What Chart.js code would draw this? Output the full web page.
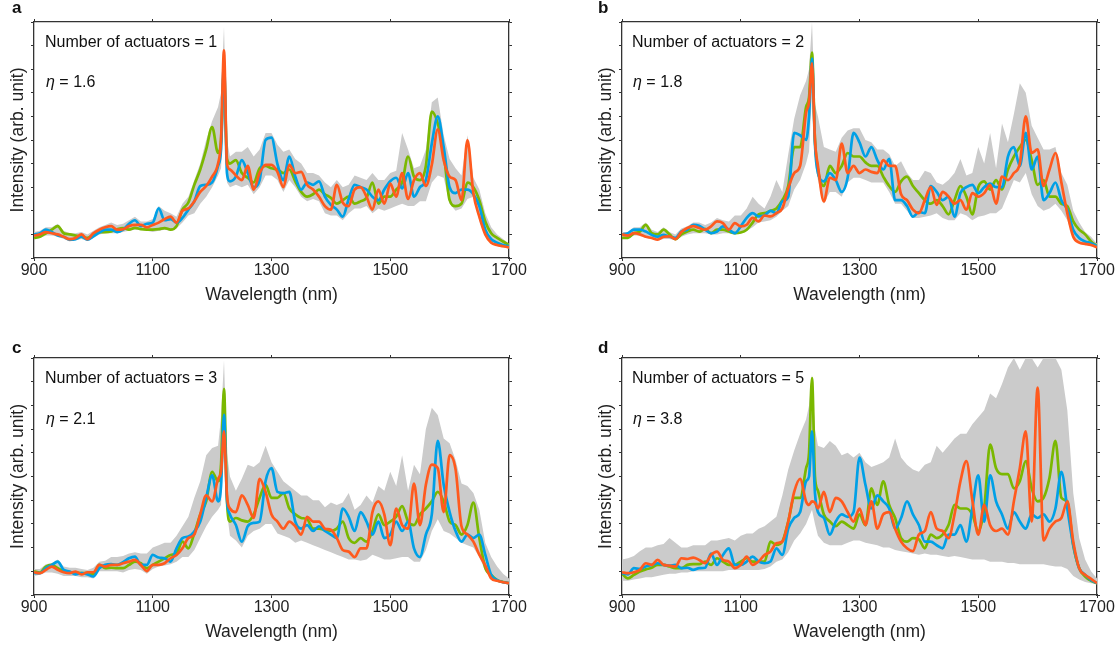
<!DOCTYPE html>
<html lang="en">
<head>
<meta charset="UTF-8">
<script src="https://cdn.jsdelivr.net/npm/chart.js@4.4.0/dist/chart.umd.min.js"></script>
<style>
    body { margin: 0; background: #fff; width: 1119px; height: 647px; position: relative; overflow: hidden; }
    canvas { position: absolute; }
    .lbl { position: absolute; font: 16px "Liberation Sans", Arial, sans-serif; line-height: 16px; color: #111; white-space: nowrap; }
    .let { position: absolute; font: bold 17px "Liberation Sans", Arial, sans-serif; line-height: 17px; color: #111; }
</style>
</head>
<body>
<canvas id="ca" width="530" height="308" style="left:0;top:0"></canvas>
<canvas id="cb" width="530" height="308" style="left:588px;top:0"></canvas>
<canvas id="cc" width="530" height="309" style="left:0;top:336px"></canvas>
<canvas id="cd" width="530" height="309" style="left:588px;top:336px"></canvas>

<div class="let" style="left:12px;top:-1px">a</div>
<div class="let" style="left:598px;top:-1px">b</div>
<div class="let" style="left:12px;top:339px">c</div>
<div class="let" style="left:598px;top:339px">d</div>

<div class="lbl" style="left:45px;top:34px">Number of actuators = 1</div>
<div class="lbl" style="left:46px;top:74px"><i>η</i> = 1.6</div>
<div class="lbl" style="left:632px;top:34px">Number of actuators = 2</div>
<div class="lbl" style="left:633px;top:74px"><i>η</i> = 1.8</div>
<div class="lbl" style="left:45px;top:370px">Number of actuators = 3</div>
<div class="lbl" style="left:46px;top:411px"><i>η</i> = 2.1</div>
<div class="lbl" style="left:632px;top:370px">Number of actuators = 5</div>
<div class="lbl" style="left:633px;top:411px"><i>η</i> = 3.8</div>

<script>
    // wavelength samples (nm), extra points around the 1220 nm peak
    const wavelengths = [
        900, 910, 920, 930, 940, 950, 960, 970, 980, 990,
        1000, 1010, 1020, 1030, 1040, 1050, 1060, 1070, 1080, 1090,
        1100, 1110, 1120, 1130, 1140, 1150, 1160, 1170, 1180, 1190,
        1200, 1210, 1215, 1220, 1225, 1230, 1240, 1250, 1260, 1270, 1280, 1290,
        1300, 1310, 1320, 1330, 1340, 1350, 1360, 1370, 1380, 1390,
        1400, 1410, 1420, 1430, 1440, 1450, 1460, 1470, 1480, 1490,
        1500, 1510, 1520, 1530, 1540, 1550, 1560, 1570, 1580, 1590,
        1600, 1610, 1620, 1630, 1640, 1650, 1660, 1670, 1680, 1690,
        1700
    ];
    const xTicks = [900, 1100, 1300, 1500, 1700];

    // ---- panel a (1 actuator) ----
    const aGreen = [
        0.85, 0.9, 1.05, 1.2, 1.35, 1.05, 1.0, 0.95, 0.9, 0.85,
        1.0, 1.1, 1.1, 1.13, 1.22, 1.27, 1.2, 1.28, 1.22, 1.2,
        1.2, 1.22, 1.27, 1.2, 1.35, 2.05, 2.35, 3.1, 3.75, 4.6,
        5.55, 4.45, 5.0, 8.0, 4.2, 4.0, 4.15, 3.6, 3.4, 3.2, 3.8, 3.9,
        3.8, 3.75, 3.6, 3.75, 3.25, 2.8, 2.6, 2.7, 2.9, 2.7,
        2.55, 2.3, 2.45, 2.6, 2.3, 2.4, 2.55, 3.2, 2.3, 2.6,
        2.6, 2.9, 3.2, 4.3, 3.45, 3.3, 3.9, 6.2, 5.7, 4.45,
        2.45, 2.2, 2.3, 3.2, 3.0, 2.45, 1.55, 1.05, 0.85, 0.7,
        0.55
    ];
    const aBlue = [
        1.0, 1.05, 1.2, 1.1, 0.95, 0.9, 0.78, 0.8, 0.9, 0.78,
        0.92, 1.08, 1.2, 1.2, 1.1, 1.2, 1.45, 1.6, 1.35, 1.45,
        1.5, 2.1, 1.6, 1.65, 1.5, 1.7, 2.05, 2.4, 3.05, 3.1,
        3.2, 3.9, 4.6, 8.3, 3.6, 3.25, 3.45, 4.15, 3.6, 3.0, 3.3, 5.0,
        5.1, 3.98, 3.3, 4.3, 3.45, 2.9, 3.2, 3.1, 3.25, 2.6,
        2.25, 2.05, 1.75, 2.5, 3.1, 3.0, 2.9, 2.6, 2.45, 2.9,
        3.25, 3.4, 2.95, 3.6, 2.6, 3.0, 3.3, 4.85, 6.0, 4.7,
        3.0, 2.75, 2.9, 2.9, 2.7, 2.2, 1.2, 0.8, 0.65, 0.55,
        0.5
    ];
    const aOrange = [
        0.95, 1.0, 1.1, 1.05, 1.0, 0.9, 0.8, 0.85, 1.0, 0.8,
        1.05, 1.2, 1.3, 1.35, 1.2, 1.22, 1.35, 1.4, 1.4, 1.3,
        1.4, 1.5, 1.65, 1.75, 1.5, 2.0, 2.1, 2.4, 2.8, 3.05,
        3.45, 4.0, 5.0, 8.8, 4.0, 3.75, 3.5, 3.3, 3.9, 2.9, 3.6, 3.95,
        3.95, 3.65, 3.0, 3.95, 3.6, 3.65, 3.1, 2.9, 2.6, 2.2,
        2.05, 3.1, 2.35, 2.2, 2.9, 3.0, 2.6, 2.05, 2.9, 2.3,
        3.15, 2.6, 3.6, 2.5, 3.3, 3.6, 3.05, 3.95, 5.45, 4.15,
        3.45, 3.3, 2.45, 5.0, 2.75, 1.75, 1.0, 0.65, 0.55, 0.5,
        0.45
    ];
    const aHigh = [
        1.1, 1.15, 1.3, 1.3, 1.45, 1.15, 1.05, 1.05, 1.1, 1.0,
        1.15, 1.3, 1.4, 1.5, 1.4, 1.45, 1.6, 1.75, 1.55, 1.55,
        1.65, 2.2, 2.0, 1.9, 1.75, 2.3, 2.6, 3.3, 4.0, 5.0,
        5.8, 6.4, 7.0, 9.8, 5.0, 4.3, 4.5, 4.5, 4.7, 4.3, 4.6, 5.3,
        5.3, 4.8, 4.5, 4.6, 4.2, 4.0, 3.6, 3.6, 3.5, 3.2,
        3.0, 3.3, 3.0, 3.1, 3.5, 3.4, 3.3, 3.6, 3.3, 3.3,
        3.6, 3.7, 5.3, 4.6, 3.8, 3.9, 4.6, 6.6, 6.8, 5.2,
        4.2, 3.8, 3.5, 5.2, 3.4, 2.9, 1.9, 1.3, 1.0, 0.8,
        0.6
    ];
    const aLow = [
        0.8, 0.85, 0.95, 0.95, 0.9, 0.8, 0.7, 0.75, 0.8, 0.72,
        0.85, 1.0, 1.05, 1.05, 1.05, 1.1, 1.15, 1.2, 1.2, 1.15,
        1.1, 1.15, 1.2, 1.15, 1.25, 1.5, 1.8, 1.9, 2.3, 2.6,
        3.0, 3.5, 3.8, 6.0, 3.2, 3.0, 3.1, 3.0, 3.1, 2.7, 3.0, 3.5,
        3.5, 3.3, 2.8, 3.3, 3.0, 2.6, 2.4, 2.5, 2.4, 1.9,
        1.8, 1.8, 1.6, 1.9, 2.1, 2.1, 2.2, 1.9, 2.1, 2.0,
        2.1, 2.2, 2.3, 2.2, 2.2, 2.4, 2.4, 3.2, 3.5, 3.4,
        2.3, 2.0, 2.1, 2.5, 2.6, 1.6, 0.9, 0.6, 0.5, 0.45,
        0.4
    ];

    // ---- panel b (2 actuators) ----
    const bGreen = [
        0.85, 0.85, 1.05, 1.12, 1.4, 1.05, 1.0, 1.2, 1.0, 0.8,
        1.0, 1.12, 1.2, 1.12, 1.23, 1.05, 1.2, 1.2, 1.12, 1.05,
        1.08, 1.2, 1.5, 1.85, 1.9, 2.0, 2.1, 2.45, 3.05, 4.7,
        4.7, 6.4, 6.8, 8.7, 5.0, 3.75, 3.05, 3.9, 3.6, 3.9, 4.45, 4.3,
        4.3, 4.05, 3.9, 3.9, 3.45, 3.05, 2.8, 3.25, 3.45, 3.05,
        2.75, 2.45, 2.3, 2.45, 2.2, 1.85, 2.45, 3.05, 2.6, 1.85,
        3.0, 3.25, 2.9, 3.3, 2.9, 3.75, 4.3, 4.7, 5.0, 4.15,
        3.1, 3.3, 2.6, 2.6, 2.3, 2.2, 1.55, 1.2, 1.0, 0.7,
        0.5
    ];
    const bBlue = [
        1.0, 1.05, 1.2, 1.2, 1.12, 0.98, 0.9, 0.98, 0.9, 0.85,
        1.13, 1.2, 1.4, 1.37, 1.2, 1.05, 1.12, 1.34, 1.2, 1.05,
        1.34, 1.7, 1.9, 1.76, 1.8, 2.0, 1.9, 2.4, 2.6, 5.3,
        5.2, 5.0, 6.0, 8.45, 4.8, 3.6, 3.25, 3.6, 3.3, 2.8, 3.4, 5.3,
        4.9, 4.3, 4.7, 4.15, 3.75, 4.2, 2.45, 2.45, 2.2, 1.75,
        1.95, 1.9, 3.05, 2.8, 2.45, 2.6, 1.75, 2.75, 3.0, 3.1,
        2.75, 3.0, 3.15, 3.0, 3.0, 4.3, 4.7, 3.9, 5.3, 3.75,
        4.3, 2.45, 2.75, 3.2, 2.45, 2.05, 1.2, 0.85, 0.7, 0.63,
        0.5
    ];
    const bOrange = [
        1.0, 0.95, 1.05, 1.0, 0.9, 0.85, 0.78, 0.9, 0.92, 0.8,
        1.1, 1.27, 1.35, 1.27, 1.2, 1.34, 1.55, 1.48, 1.2, 1.48,
        1.34, 1.41, 1.7, 1.55, 1.8, 1.76, 1.9, 2.1, 2.95, 3.6,
        3.9, 6.15, 6.6, 8.25, 5.0, 3.9, 2.4, 3.4, 3.3, 4.85, 3.6, 3.9,
        3.6, 3.75, 3.65, 3.6, 4.15, 3.9, 3.9, 2.7, 2.45, 2.05,
        1.9, 2.45, 3.0, 2.25, 2.8, 2.6, 2.3, 2.45, 2.05, 2.75,
        2.6, 2.75, 3.1, 2.3, 3.45, 3.3, 3.6, 4.0, 6.0, 4.45,
        4.6, 3.05, 3.75, 4.45, 3.2, 1.9, 0.9, 0.65, 0.6, 0.55,
        0.45
    ];
    const bHigh = [
        1.1, 1.1, 1.3, 1.3, 1.5, 1.2, 1.1, 1.3, 1.1, 1.0,
        1.25, 1.35, 1.5, 1.5, 1.4, 1.5, 1.7, 1.6, 1.55, 1.8,
        1.8, 2.1, 2.6, 2.3, 2.1, 2.6, 3.3, 2.8, 4.4, 5.9,
        6.9, 7.5, 8.0, 10, 6.5, 6.0, 4.7, 4.6, 4.5, 5.1, 5.4, 5.5,
        5.5, 5.0, 4.9, 4.6, 4.6, 4.4, 3.9, 4.1, 3.6, 3.3,
        3.3, 3.7, 3.6, 3.2, 3.1, 3.3, 3.6, 4.2, 3.5, 3.6,
        4.7, 4.0, 5.3, 3.8, 5.7, 4.9, 6.1, 7.4, 7.0, 5.6,
        5.1, 4.6, 4.6, 4.7, 3.6, 3.1, 2.0, 1.5, 1.1, 0.9,
        0.6
    ];
    const bLow = [
        0.85, 0.85, 0.95, 0.95, 0.85, 0.8, 0.75, 0.8, 0.8, 0.75,
        0.9, 1.0, 1.05, 1.05, 1.05, 1.0, 1.0, 1.05, 1.05, 1.0,
        1.05, 1.15, 1.3, 1.5, 1.55, 1.6, 1.75, 2.0, 2.2, 2.9,
        3.3, 4.0, 4.5, 7.0, 4.0, 3.3, 2.3, 2.8, 2.8, 2.6, 3.2, 3.4,
        3.4, 3.3, 3.2, 3.2, 3.2, 2.8, 2.3, 2.3, 2.0, 1.7,
        1.7, 1.75, 1.8, 1.9, 1.7, 1.6, 1.6, 1.9, 1.8, 1.6,
        1.75, 1.8, 1.9, 1.9, 2.1, 2.7, 3.3, 3.2, 3.6, 2.7,
        2.2, 2.0, 2.1, 2.3, 2.0, 1.6, 0.9, 0.6, 0.55, 0.5,
        0.45
    ];

    // ---- panel c (3 actuators) ----
    const cGreen = [
        1.0, 0.95, 1.2, 1.27, 1.13, 1.01, 0.96, 0.96, 0.92, 0.92,
        0.87, 1.27, 1.13, 1.15, 1.13, 1.13, 1.27, 1.41, 1.34, 1.13,
        1.27, 1.41, 1.55, 1.69, 1.76, 2.25, 1.97, 2.6, 3.4, 3.95,
        5.2, 4.8, 5.5, 8.7, 4.0, 3.1, 3.25, 3.15, 3.1, 3.4, 4.1, 4.65,
        4.1, 4.1, 4.3, 3.65, 3.4, 3.25, 3.2, 2.8, 2.8, 2.75,
        2.7, 2.8, 3.1, 2.4, 2.2, 2.4, 2.25, 2.7, 3.4, 2.95,
        3.1, 3.3, 3.75, 3.1, 2.95, 3.4, 3.65, 3.95, 4.35, 3.95,
        3.1, 2.95, 2.55, 2.95, 3.9, 2.4, 1.15, 0.85, 0.63, 0.55,
        0.5
    ];
    const cBlue = [
        0.92, 0.92, 1.13, 1.27, 1.41, 1.06, 0.99, 0.87, 0.92, 0.87,
        0.78, 1.13, 1.27, 1.3, 1.27, 1.38, 1.55, 1.62, 1.27, 1.27,
        1.69, 1.58, 1.55, 1.41, 1.97, 2.4, 2.47, 2.68, 3.1, 4.1,
        5.05, 3.95, 4.6, 7.6, 4.0, 3.4, 2.95, 2.25, 2.9, 3.04, 3.1, 4.8,
        5.35, 4.35, 4.3, 4.35, 3.1, 2.8, 2.95, 2.7, 2.9, 2.7,
        2.55, 2.4, 3.65, 3.3, 2.7, 3.5, 3.1, 2.55, 3.1, 2.4,
        2.55, 3.1, 2.7, 3.1, 1.97, 1.6, 2.55, 3.4, 6.5, 4.65,
        3.5, 2.7, 2.25, 2.55, 2.4, 2.55, 1.7, 0.85, 0.63, 0.54,
        0.5
    ];
    const cOrange = [
        0.96, 0.92, 1.06, 1.2, 1.06, 0.96, 0.92, 0.99, 0.87, 0.96,
        0.96, 1.27, 1.2, 1.27, 1.27, 1.34, 1.41, 1.48, 1.27, 1.01,
        1.27, 1.27, 1.34, 1.55, 1.69, 1.97, 2.4, 2.55, 3.4, 4.2,
        3.95, 4.9, 5.2, 6.9, 4.2, 3.65, 3.5, 4.2, 3.8, 3.25, 4.9, 4.35,
        3.4, 3.1, 2.8, 3.1, 2.9, 2.55, 3.3, 3.1, 3.1, 2.8,
        2.75, 2.4, 1.9, 1.83, 1.6, 1.97, 1.97, 3.5, 3.95, 3.4,
        2.1, 3.65, 2.95, 2.8, 4.7, 2.95, 4.65, 5.5, 5.35, 3.5,
        5.9, 5.3, 2.9, 2.55, 2.25, 1.7, 1.25, 0.7, 0.6, 0.54,
        0.5
    ];
    const cHigh = [
        1.1, 1.1, 1.3, 1.35, 1.5, 1.2, 1.15, 1.15, 1.1, 1.05,
        1.15, 1.4, 1.45, 1.6, 1.6, 1.65, 1.75, 1.8, 1.75, 1.75,
        2.0, 2.1, 2.2, 2.2, 2.5, 2.9, 3.3, 4.1, 4.8, 5.9,
        6.2, 6.3, 7.5, 9.9, 6.0, 5.0, 4.4, 4.9, 5.5, 5.4, 5.6, 6.3,
        5.6, 5.2, 4.8, 4.6, 4.4, 4.2, 4.2, 4.0, 4.0, 3.7,
        3.9, 3.8, 3.9, 4.3, 3.6, 3.8, 4.2, 3.9, 4.6, 4.4,
        5.2, 4.6, 5.9, 4.4, 5.5, 5.1, 7.0, 7.9, 7.6, 6.6,
        6.4, 5.7, 4.7, 4.6, 4.3, 3.6, 2.2, 1.6, 1.2, 0.9,
        0.7
    ];
    const cLow = [
        0.8, 0.85, 0.95, 0.95, 0.9, 0.8, 0.8, 0.8, 0.75, 0.75,
        0.7, 1.0, 1.0, 1.0, 1.0, 0.95, 1.05, 1.1, 1.05, 0.9,
        1.1, 1.2, 1.25, 1.3, 1.4, 1.6, 1.6, 1.9, 2.4, 2.9,
        3.3, 3.6, 3.8, 6.5, 3.5, 2.5, 2.3, 2.0, 2.5, 2.7, 2.8, 3.0,
        3.0, 2.6, 2.5, 2.4, 2.2, 2.3, 2.2, 2.1, 2.0, 1.9,
        1.8, 1.7, 1.6, 1.5, 1.5, 1.45, 1.5, 1.7, 1.6, 1.5,
        1.5, 1.55, 1.6, 1.6, 1.4, 1.4, 1.9, 2.7, 3.2, 2.7,
        2.6, 2.4, 2.2, 2.1, 2.0, 1.6, 1.0, 0.7, 0.55, 0.5,
        0.45
    ];

    // ---- panel d (5 actuators) ----
    const dGreen = [
        0.9, 0.7, 0.85, 0.99, 1.08, 1.15, 1.27, 1.27, 1.2, 1.13,
        1.13, 1.27, 1.3, 1.3, 1.41, 1.27, 1.55, 1.41, 1.27, 1.27,
        1.41, 1.55, 1.41, 1.41, 1.41, 2.25, 2.11, 2.25, 3.1, 4.1,
        4.1, 5.35, 6.0, 9.15, 5.0, 4.4, 3.4, 3.1, 2.9, 3.1, 2.95, 2.8,
        3.4, 2.95, 4.5, 3.8, 4.8, 3.8, 3.25, 2.4, 2.25, 2.4,
        2.35, 1.97, 2.55, 2.4, 2.55, 2.95, 3.8, 3.65, 3.65, 3.4,
        2.7, 3.65, 6.35, 5.35, 5.1, 5.1, 4.5, 4.8, 5.65, 4.5,
        3.95, 4.1, 4.95, 6.5, 4.1, 3.95, 2.1, 1.13, 0.78, 0.6,
        0.5
    ];
    const dBlue = [
        0.92, 0.87, 1.13, 1.1, 1.2, 1.27, 1.34, 1.27, 1.24, 1.27,
        1.13, 1.15, 1.06, 1.13, 1.15, 1.75, 1.27, 1.69, 1.97, 1.27,
        1.27, 1.41, 1.62, 1.41, 1.34, 1.41, 1.97, 1.69, 2.8, 3.25,
        3.5, 4.8, 5.0, 6.9, 4.3, 3.5, 3.25, 2.55, 3.1, 3.4, 3.3, 3.5,
        5.8, 4.65, 3.65, 4.2, 3.95, 3.65, 2.8, 3.25, 3.95, 3.4,
        2.95, 2.25, 2.25, 2.1, 1.97, 2.55, 2.55, 2.95, 2.25, 3.65,
        5.05, 3.1, 5.05, 3.95, 3.4, 2.8, 3.5, 3.1, 2.8, 3.4,
        3.25, 3.4, 3.1, 3.65, 5.2, 3.65, 2.1, 1.13, 0.85, 0.63,
        0.5
    ];
    const dOrange = [
        0.96, 0.92, 0.96, 1.06, 1.34, 1.27, 1.48, 1.27, 1.24, 1.2,
        1.55, 1.52, 1.58, 1.48, 1.34, 1.69, 1.83, 1.48, 1.41, 1.13,
        1.27, 1.62, 1.27, 1.41, 1.69, 1.83, 2.18, 2.25, 3.1, 4.35,
        4.9, 3.95, 3.8, 3.95, 3.9, 3.65, 4.35, 3.5, 4.1, 3.95, 3.5, 3.1,
        3.65, 2.95, 3.95, 2.8, 3.4, 3.5, 2.8, 2.25, 1.97, 1.85,
        2.55, 2.7, 3.5, 2.8, 2.7, 2.4, 3.4, 4.8, 5.65, 4.0,
        2.55, 3.8, 2.95, 2.7, 2.8, 2.55, 3.95, 5.35, 6.9, 3.1,
        8.75, 2.3, 2.8, 3.1, 3.25, 3.95, 2.25, 1.13, 0.85, 0.68,
        0.5
    ];
    const dHigh = [
        1.5, 1.55, 1.65, 1.85, 2.0, 2.0, 2.1, 2.15, 2.4, 2.2,
        2.0, 2.0, 2.1, 2.1, 2.1, 2.3, 2.3, 2.35, 2.4, 2.3,
        2.5, 2.6, 2.6, 2.8, 2.9, 3.1, 3.3, 4.2, 5.3, 6.1,
        6.8, 7.4, 8.0, 9.3, 7.0, 6.3, 6.2, 6.5, 6.3, 5.9, 6.0, 5.8,
        6.0, 5.6, 5.4, 5.5, 5.6, 5.8, 6.6, 5.8, 5.5, 5.3,
        5.2, 5.5, 5.6, 6.3, 6.0, 6.3, 6.6, 6.8, 6.8, 7.2,
        7.5, 7.8, 8.5, 8.3, 8.9, 9.6, 10, 9.5, 10, 10,
        9.6, 10, 10, 10, 9.5, 7.8, 4.3, 2.4, 1.5, 1.0,
        0.7
    ];
    const dLow = [
        0.6, 0.6, 0.65, 0.7, 0.75, 0.75, 0.8, 0.85, 0.9, 0.9,
        0.95, 0.95, 1.0, 1.0, 1.0, 1.0, 1.0, 1.0, 1.05, 1.05,
        1.05, 1.05, 1.05, 1.05, 1.1, 1.2, 1.4, 1.5, 1.8, 2.3,
        2.6, 3.0, 3.3, 3.6, 3.0, 2.5, 2.2, 2.1, 2.1, 2.1, 2.2, 2.3,
        2.3, 2.2, 2.15, 2.1, 2.0, 2.0, 1.9, 1.85, 1.8, 1.75,
        1.7, 1.75, 1.7, 1.7, 1.65, 1.6, 1.65, 1.6, 1.55, 1.5,
        1.5, 1.5, 1.4, 1.4, 1.4, 1.35, 1.35, 1.3, 1.3, 1.3,
        1.3, 1.3, 1.25, 1.2, 1.2, 1.1, 0.8, 0.65, 0.55, 0.5,
        0.45
    ];

    const GREEN = '#7ab800';
    const BLUE = '#00a0e6';
    const ORANGE = '#ff5a1e';
    const GRAY = '#cbcbcb';
    const AXIS = '#333';

    Chart.defaults.font.family = '"Liberation Sans", Arial, sans-serif';
    Chart.defaults.color = '#222';

    function pts(arr) {
        return wavelengths.map((w, i) => ({ x: w, y: arr[i] }));
    }

    function line(arr, color, order) {
        return {
            data: pts(arr), borderColor: color, borderWidth: 2.7, pointRadius: 0, fill: false,
            cubicInterpolationMode: 'monotone', borderJoinStyle: 'round', order: order
        };
    }

    function axisGrid() {
        return { drawOnChartArea: false, drawTicks: true, tickLength: 3, color: AXIS, lineWidth: 1 };
    }

    function makeChart(id, g, b, o, hi, lo) {
        new Chart(document.getElementById(id), {
            type: 'line',
            data: {
                datasets: [
                    line(o, ORANGE, 1),
                    line(b, BLUE, 2),
                    line(g, GREEN, 3),
                    { data: pts(hi), borderWidth: 0, pointRadius: 0, backgroundColor: GRAY, fill: '+1', order: 4 },
                    { data: pts(lo), borderWidth: 0, pointRadius: 0, fill: false, order: 5 }
                ]
            },
            options: {
                responsive: false,
                animation: false,
                layout: { padding: { left: 4, top: 14, right: 11, bottom: 0 } },
                plugins: { legend: { display: false }, tooltip: { enabled: false } },
                scales: {
                    x: {
                        type: 'linear', position: 'bottom', min: 900, max: 1700,
                        afterBuildTicks: s => { s.ticks = xTicks.map(v => ({ value: v })); },
                        grid: axisGrid(),
                        border: { display: true, color: AXIS, width: 1.3 },
                        ticks: {
                            font: { size: 16 }, color: '#222', padding: 0, maxRotation: 0, autoSkip: false,
                            callback: v => String(v)
                        },
                        title: { display: true, text: 'Wavelength (nm)', font: { size: 17.5 }, color: '#222', padding: { top: 2, bottom: 2 } },
                        afterFit: s => { s.height = 50; s.paddingLeft = 0; s.paddingRight = 0; }
                    },
                    x2: {
                        type: 'linear', position: 'top', min: 900, max: 1700,
                        afterBuildTicks: s => { s.ticks = xTicks.map(v => ({ value: v })); },
                        grid: axisGrid(),
                        border: { display: true, color: AXIS, width: 1.3 },
                        ticks: { display: false },
                        afterFit: s => { s.height = 8; s.paddingLeft = 0; s.paddingRight = 0; }
                    },
                    y: {
                        type: 'linear', position: 'left', min: 0, max: 10,
                        ticks: { display: false, stepSize: 1 },
                        grid: axisGrid(),
                        border: { display: true, color: AXIS, width: 1.3 },
                        title: { display: true, text: 'Intensity (arb. unit)', font: { size: 17.5 }, color: '#222', padding: { top: 4, bottom: 0 } },
                        afterFit: s => { s.width = 30; s.paddingTop = 0; s.paddingBottom = 0; }
                    },
                    y2: {
                        type: 'linear', position: 'right', min: 0, max: 10,
                        ticks: { display: false, stepSize: 1 },
                        grid: axisGrid(),
                        border: { display: true, color: AXIS, width: 1.3 },
                        afterFit: s => { s.width = 10; s.paddingTop = 0; s.paddingBottom = 0; }
                    }
                }
            }
        });
    }

    makeChart('ca', aGreen, aBlue, aOrange, aHigh, aLow);
    makeChart('cb', bGreen, bBlue, bOrange, bHigh, bLow);
    makeChart('cc', cGreen, cBlue, cOrange, cHigh, cLow);
    makeChart('cd', dGreen, dBlue, dOrange, dHigh, dLow);
</script>
</body>
</html>
